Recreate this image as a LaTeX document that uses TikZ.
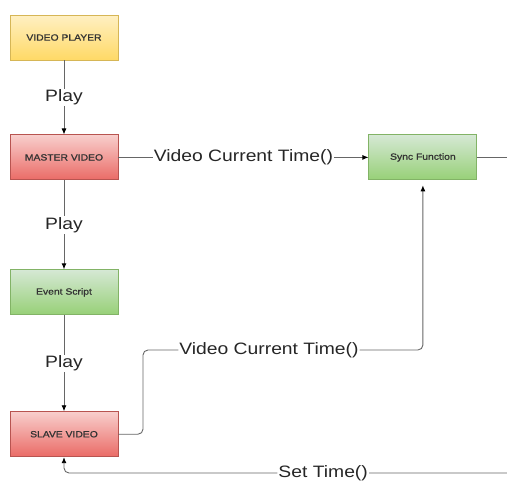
\documentclass[tikz,border=0pt]{standalone}
\usepackage{fontspec}
\setmainfont{Liberation Sans}
\newfontfamily\boxfont[FakeStretch=1.15,FakeBold=1]{Liberation Sans}
\newfontfamily\labfont[FakeStretch=1.17]{Liberation Sans}
\usetikzlibrary{positioning,arrows.meta}
\definecolor{ylwtop}{HTML}{FFF0C2}
\definecolor{ylwbot}{HTML}{FFD966}
\definecolor{ylwline}{HTML}{D6B656}
\definecolor{redtop}{HTML}{F8CECC}
\definecolor{redbot}{HTML}{EA6B66}
\definecolor{redline}{HTML}{B85450}
\definecolor{grntop}{HTML}{D5E8D4}
\definecolor{grnbot}{HTML}{97D077}
\definecolor{grnline}{HTML}{82B366}
\definecolor{wire}{HTML}{666666}
\tikzset{
  box/.style={rectangle, minimum width=108pt, minimum height=45pt, inner sep=0pt,
    font=\boxfont\fontsize{9}{10}\selectfont, text=black!80},
  ylwbox/.style={box, draw=ylwline, top color=ylwtop, bottom color=ylwbot},
  redbox/.style={box, draw=redline, top color=redtop, bottom color=redbot},
  grnbox/.style={box, draw=grnline, top color=grntop, bottom color=grnbot},
  lab/.style={fill=white, inner sep=1pt, font=\labfont\fontsize{16.5}{19}\selectfont, text=black!85}
}
\begin{document}
\begin{tikzpicture}[x=1pt, y=-1pt, ->, >={Latex[length=6pt,width=5pt,black]}, wire, line width=0.9pt]
\useasboundingbox (0,0) rectangle (507,483);
\node (vp)[ylwbox] at (64,37.5) {VIDEO PLAYER};
\node (mv)[redbox] [below=74pt of vp] {MASTER VIDEO};
\node (es)[grnbox] [below=89pt of mv] {Event Script};
\node (sv)[redbox] [below=96pt of es] {SLAVE VIDEO};
\node (sync)[grnbox] [right=250pt of mv] {Sync Function};
\coordinate (syncend) at (507,157);
\coordinate (bend) at (143,350);
\coordinate (setend) at (507,473);
\path (vp) edge node[lab]{Play} (mv)
      (mv) edge node[lab]{Play} (es)
      (es) edge node[lab]{Play} (sv)
      (mv) edge node[lab]{Video Current Time()} (sync);
\draw[-] (sync.east) -- (syncend |- sync.east);
\draw[rounded corners=5pt, shorten >=5pt] (sv.east) -| (bend)
  -- node[lab, pos=0.45]{Video Current Time()} (bend -| sync.south) -- (sync.south);
\draw[rounded corners=5pt] (setend) -- node[lab, pos=0.415]{Set Time()} (sv.south |- setend) -- (sv.south);
\end{tikzpicture}
\end{document}
